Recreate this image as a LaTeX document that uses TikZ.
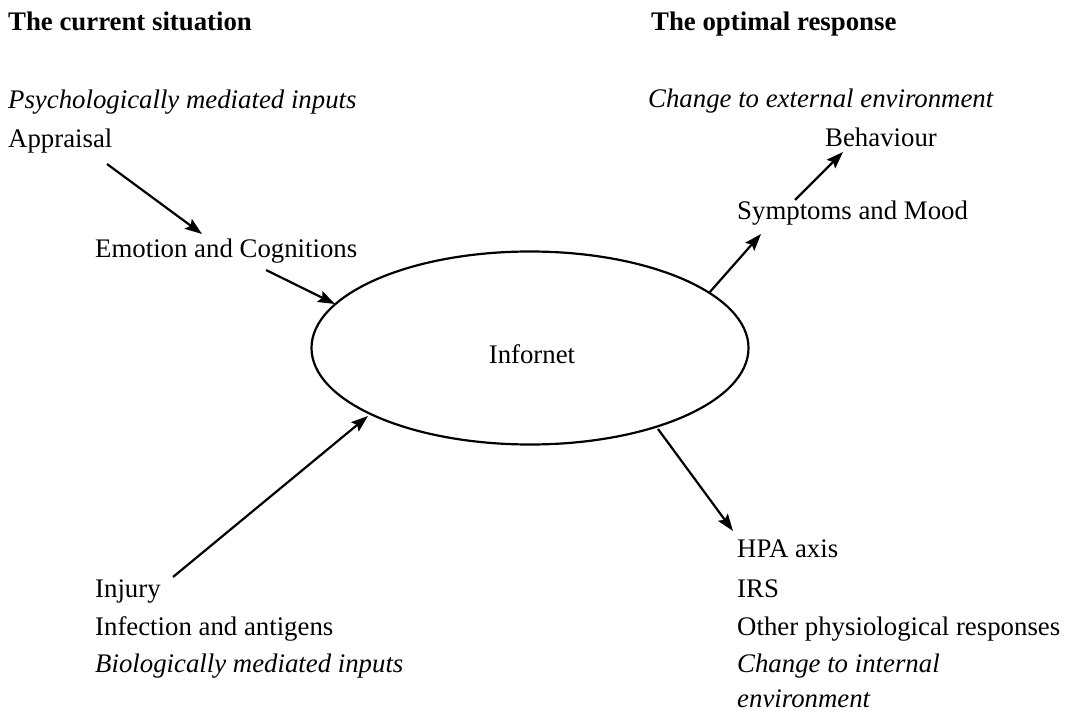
\documentclass[tikz,border=0pt]{standalone}
\usepackage{fontspec}
\setmainfont{Liberation Serif}
\usetikzlibrary{shapes.geometric,arrows.meta}
\begin{document}
\begin{tikzpicture}[x=1pt,y=-1pt,
  txt/.style={anchor=base west,inner sep=0pt,font=\fontsize{26.8}{32}\selectfont},
  ttl/.style={txt,font=\fontsize{26.8}{32}\selectfont\bfseries},
  itx/.style={txt,font=\fontsize{26.8}{32}\selectfont\itshape},
  arr/.style={line width=2.2pt,-{Stealth[length=17pt,width=12pt,inset=3pt]}},
  ring/.style={draw,ellipse,line width=2.2pt,inner sep=0pt,minimum width=437pt,minimum height=193pt}]
\useasboundingbox (0,0) rectangle (1092,714);
% titles
\node[ttl] (t1) at (8,31) {The current situation};
\node[ttl] (t2) at (651,31) {The optimal response};
% upper left
\node[itx] (psy) at (8,109) {Psychologically mediated inputs};
\node[txt] (app) at (8,148) {Appraisal};
\node[txt] (emo) at (95,258) {Emotion and Cognitions};
% ellipse
\node[ring] (inf) at (530,348) {};
\node[txt,anchor=base] (infl) at (532,363) {Infornet};
% upper right
\node[itx] (ext) at (648,108) {Change to external environment};
\node[txt] (beh) at (825,147) {Behaviour};
\node[txt] (sym) at (737,220) {Symptoms and Mood};
% lower left
\node[txt] (inj) at (95,597) {Injury};
\node[txt] (infc) at (95,635) {Infection and antigens};
\node[itx] (bio) at (95,672) {Biologically mediated inputs};
% lower right
\node[txt] (hpa) at (737,557) {HPA axis};
\node[txt] (irs) at (737,597) {IRS};
\node[txt] (oth) at (737,635) {Other physiological responses};
\node[itx] (cint) at (737,672) {Change to internal};
\node[itx] (cenv) at (737,707) {environment};
% arrow end points
\coordinate (a1s) at (107,164); \coordinate (a1e) at (202,234);
\coordinate (a2s) at (266,270); \coordinate (a2e) at (335,304);
\coordinate (a3s) at (173,577); \coordinate (a3e) at (368,416);
\coordinate (a4s) at (709,293); \coordinate (a4e) at (761,234);
\coordinate (a5s) at (795,200); \coordinate (a5e) at (843,152);
\coordinate (a6s) at (658,429); \coordinate (a6e) at (733,531);
\draw[arr] (a1s) -- (a1e);
\draw[arr] (a2s) -- (a2e);
\draw[arr] (a3s) -- (a3e);
\draw[arr] (a4s) -- (a4e);
\draw[arr] (a5s) -- (a5e);
\draw[arr] (a6s) -- (a6e);
\end{tikzpicture}
\end{document}
